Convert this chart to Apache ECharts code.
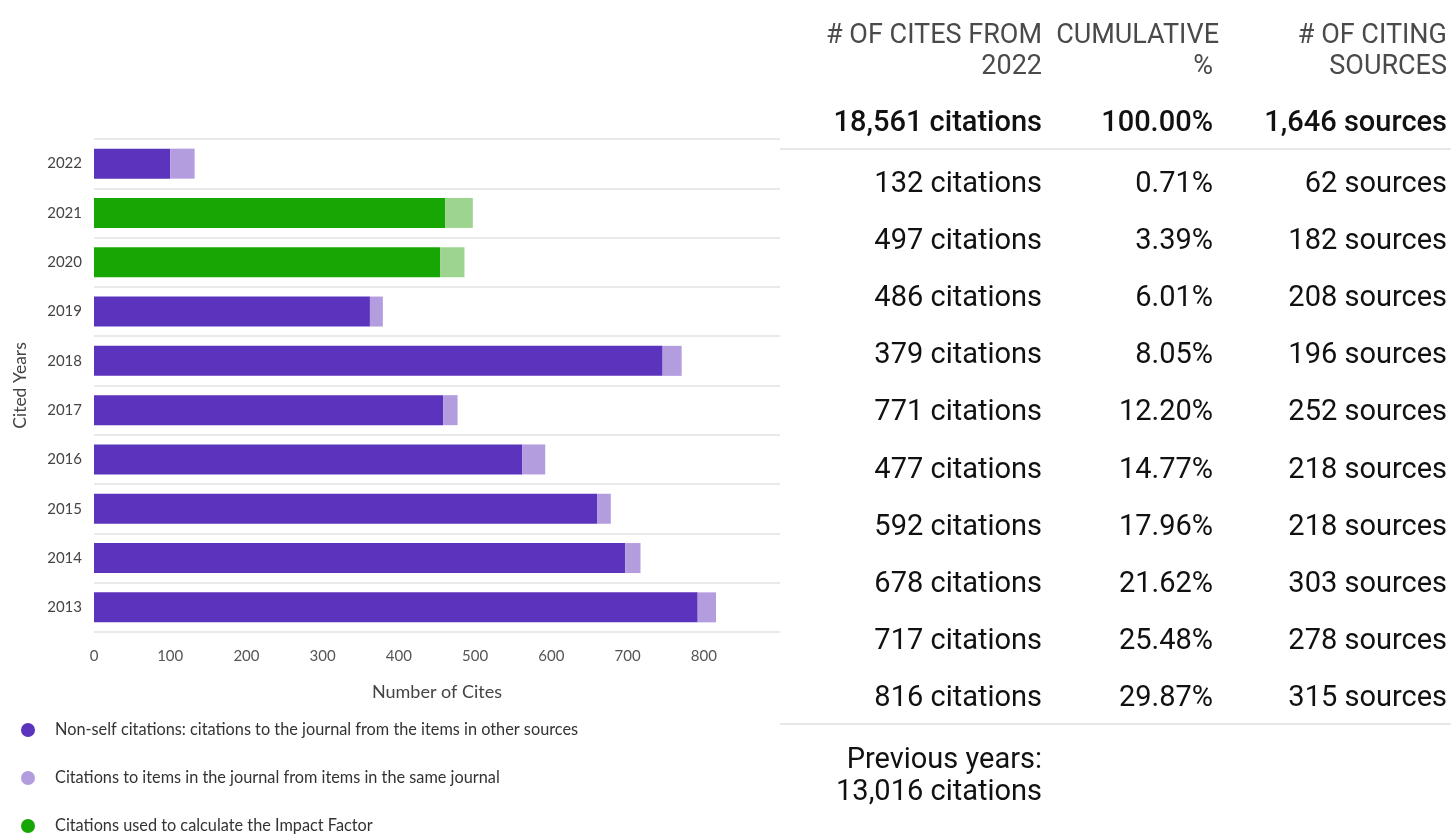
<!DOCTYPE html>
<html>
<head>
<meta charset="utf-8">
<title>Cited years</title>
<script src="https://cdn.jsdelivr.net/npm/echarts@6/dist/echarts.min.js"></script>
<style>
  html, body { margin: 0; padding: 0; background: #fff; }
  #chart { width: 1451px; height: 835px; }
</style>
</head>
<body>
<div id="chart"></div>
<script>
// Cited years, newest first
const years = ['2022', '2021', '2020', '2019', '2018', '2017', '2016', '2015', '2014', '2013'];
// Years counted in the Impact Factor window
const impactYears = ['2021', '2020'];
// Citations from other sources, per cited year
const nonSelf = [100, 461, 454, 362, 746, 458, 562, 660, 697, 792];
// Journal self-citations, per cited year
const selfCites = [32, 36, 32, 17, 25, 19, 30, 18, 20, 24];
// Axis ticks
const xTicks = [0, 100, 200, 300, 400, 500, 600, 700, 800];

// Table columns
const tableHeaders = [['# OF CITES FROM', '2022'], ['CUMULATIVE', '%'], ['# OF CITING', 'SOURCES']];
const totalRow = ['18,561 citations', '100.00%', '1,646 sources'];
const citesCol = ['132 citations', '497 citations', '486 citations', '379 citations', '771 citations',
                  '477 citations', '592 citations', '678 citations', '717 citations', '816 citations'];
const cumulativeCol = ['0.71%', '3.39%', '6.01%', '8.05%', '12.20%', '14.77%', '17.96%', '21.62%', '25.48%', '29.87%'];
const sourcesCol = ['62 sources', '182 sources', '208 sources', '196 sources', '252 sources',
                    '218 sources', '218 sources', '303 sources', '278 sources', '315 sources'];
const previousYears = ['Previous years:', '13,016 citations'];

const C_NONSELF = '#5b33bd';
const C_SELF = '#b39ddf';
const C_IF = '#17a705';
const C_IF_SELF = '#9dd48f';

const names = [
  'Non-self citations: citations to the journal from the items in other sources',
  'Citations to items in the journal from items in the same journal',
  'Citations used to calculate the Impact Factor'
];

const chartFont = 'Lato, "Source Sans Pro", sans-serif';
const tableFont = 'Roboto, sans-serif';

function colored(values, base, alt) {
  return values.map((v, i) => ({
    value: v,
    itemStyle: { color: impactYears.includes(years[i]) ? alt : base }
  }));
}

// Right-hand table, built as text elements
const colRight = [1042, 1213, 1447];
const headerRight = [1042, 1219, 1447];
const graphic = [];
tableHeaders.forEach((h, c) => {
  h.forEach((line, k) => {
    graphic.push({
      type: 'text',
      style: {
        text: line, x: k === 0 ? headerRight[c] : colRight[c], y: 36 + k * 31,
        align: 'right', verticalAlign: 'middle',
        font: '400 27px ' + tableFont, fill: '#4a4a4a'
      }
    });
  });
});
totalRow.forEach((t, c) => {
  graphic.push({
    type: 'text',
    style: {
      text: t, x: colRight[c], y: 124,
      align: 'right', verticalAlign: 'middle',
      font: '500 29px ' + tableFont, fill: '#111'
    }
  });
});
graphic.push({ type: 'rect', shape: { x: 780, y: 148, width: 671, height: 2 }, style: { fill: '#e8e8e8' } });
[citesCol, cumulativeCol, sourcesCol].forEach((col, c) => {
  col.forEach((t, r) => {
    graphic.push({
      type: 'text',
      style: {
        text: t, x: colRight[c], y: 184.5 + r * 57.15,
        align: 'right', verticalAlign: 'middle',
        font: '400 29px ' + tableFont, fill: '#111'
      }
    });
  });
});
graphic.push({ type: 'rect', shape: { x: 780, y: 723, width: 671, height: 2 }, style: { fill: '#e8e8e8' } });
previousYears.forEach((t, k) => {
  graphic.push({
    type: 'text',
    style: {
      text: t, x: colRight[0], y: 761 + k * 32,
      align: 'right', verticalAlign: 'middle',
      font: '400 29px ' + tableFont, fill: '#111'
    }
  });
});

const chart = echarts.init(document.getElementById('chart'));
chart.setOption({
  animation: false,
  textStyle: { fontFamily: chartFont },
  grid: { left: 94, right: 671, top: 139, bottom: 203, containLabel: false },
  legend: {
    orient: 'vertical',
    left: 21,
    top: 722,
    itemWidth: 14,
    itemHeight: 14,
    itemGap: 32,
    icon: 'circle',
    selectedMode: false,
    padding: 0,
    data: names.map((n, i) => ({ name: n, itemStyle: { color: [C_NONSELF, C_SELF, C_IF][i] } })),
    textStyle: { fontSize: 16.3, color: '#333', fontFamily: chartFont, padding: [0, 0, 0, 15] }
  },
  xAxis: {
    type: 'value',
    min: 0,
    max: 900,
    interval: 100,
    axisLine: { show: false },
    axisTick: { show: false },
    splitLine: { show: false },
    axisLabel: {
      color: '#555', fontSize: 15, margin: 17,
      formatter: v => (xTicks.includes(v) ? String(v) : '')
    },
    name: 'Number of Cites',
    nameLocation: 'middle',
    nameGap: 51,
    nameTextStyle: { color: '#444', fontSize: 18 }
  },
  yAxis: {
    type: 'category',
    inverse: true,
    data: years,
    axisLine: { show: false },
    axisTick: { show: false },
    axisLabel: { color: '#444', fontSize: 15, margin: 12 },
    splitLine: { show: true, lineStyle: { color: '#e2e2e2', width: 1.5 } },
    name: 'Cited Years',
    nameLocation: 'middle',
    nameRotate: 90,
    nameGap: 65,
    nameTextStyle: { color: '#444', fontSize: 17.5 }
  },
  series: [
    {
      name: names[0], type: 'bar', stack: 'cites', barWidth: 30,
      itemStyle: { color: C_NONSELF },
      data: colored(nonSelf, C_NONSELF, C_IF)
    },
    {
      name: names[1], type: 'bar', stack: 'cites', barWidth: 30,
      itemStyle: { color: C_SELF },
      data: colored(selfCites, C_SELF, C_IF_SELF)
    },
    {
      name: names[2], type: 'bar', stack: 'cites', barWidth: 30,
      itemStyle: { color: C_IF },
      data: []
    }
  ],
  graphic: graphic
});
</script>
</body>
</html>
